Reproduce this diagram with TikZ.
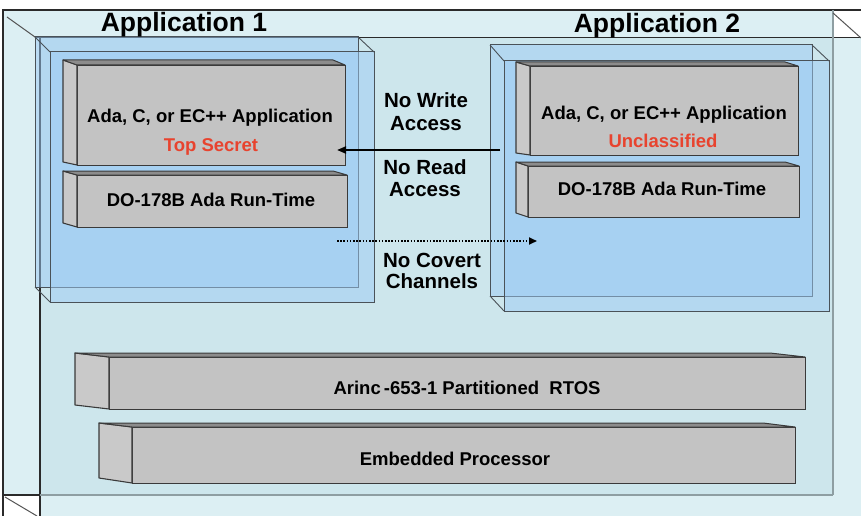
\documentclass[tikz,border=0pt]{standalone}
\usepackage{fontspec}
\setmainfont{Liberation Sans}
\usetikzlibrary{arrows.meta}
\definecolor{outerbg}{HTML}{DCEFF3}
\definecolor{wallbg}{HTML}{CDE6EC}
\definecolor{appblue}{HTML}{9CCBF5}
\definecolor{frameln}{HTML}{2A2A2A}
\definecolor{wallln}{HTML}{8E9EA2}
\definecolor{appln}{HTML}{4A5258}
\definecolor{facegray}{HTML}{C3C3C3}
\definecolor{sidegray}{HTML}{C9C9C9}
\definecolor{topgray}{HTML}{8C8C8C}
\definecolor{blkln}{HTML}{3A3A3A}
\definecolor{redtxt}{HTML}{E8432E}
\newcommand\gblk[9]{%
  \node[frontface, anchor=north west, minimum width=#7-#3, minimum height=#8-#5] (#1) at (#3,#5) {};
  \draw[sideface] (#2,#4) -- (#3,#5) -- (#3,#8) -- (#2,#9) -- cycle;
  \draw[topface] (#2,#4) -- (#6,#4) -- (#7,#5) -- (#3,#5) -- cycle;
}
\begin{document}
\begin{tikzpicture}[x=1pt,y=-1pt,
  frontface/.style={draw=blkln, fill=facegray, line width=1.3pt, inner sep=0pt},
  sideface/.style={draw=blkln, fill=sidegray, line width=1.1pt, line join=round},
  topface/.style={draw=blkln, fill=topgray, line width=1pt, line join=round},
  appbox/.style={draw=appln, fill=appblue, fill opacity=0.5, line width=1pt},
  appedge/.style={draw=appln, line width=0.9pt},
  title/.style={font=\fontsize{26.5}{30}\selectfont\bfseries, anchor=base, inner sep=0pt},
  btxt/.style={font=\fontsize{18.5}{22}\selectfont\bfseries, anchor=base, inner sep=0pt},
  rtxt/.style={btxt, text=redtxt},
  mtxt/.style={font=\fontsize{20.5}{22}\selectfont\bfseries, anchor=base, inner sep=0pt},
  solidarrow/.style={line width=2pt, -{Triangle[length=9pt,width=7pt]}},
  dotarrow/.style={line width=1.8pt, dash pattern=on 1.6pt off 1.6pt, -{Triangle[length=8pt,width=7pt]}}
]
\useasboundingbox (0,0) rectangle (861,516);
% backgrounds
\fill[white] (0,0) rectangle (861,516);
\fill[outerbg] (3,10) rectangle (861,516);
\fill[wallbg] (40,38) rectangle (833,495);
\fill[white] (833,10) rectangle (861,38);
\fill[white] (3,495) rectangle (40,516);
% room lines
\draw[frameln, line width=1.2pt] (3,516) -- (3,10) -- (861,10);
\draw[frameln, line width=1.2pt] (40,516) -- (40,38);
\draw[frameln, line width=1pt] (35,38) -- (861,38);
\draw[wallln, line width=1.2pt] (833,10) -- (833,495);
\draw[wallln, line width=1.2pt] (40,495) -- (833,495);
\draw[frameln, line width=1.2pt] (3,495) -- (40,495);
\draw[frameln!80, line width=1pt] (7,17) -- (35,37);
\draw[frameln!80, line width=1pt] (833,13) -- (861,38);
\draw[frameln!80, line width=1pt] (5,497) -- (37,516);
% application 1 box
\draw[appbox] (35,37) rectangle (358,287);
\draw[appbox] (50,52) rectangle (374,302);
\draw[appedge] (35,37) -- (50,52) (358,37) -- (374,52) (35,287) -- (50,302);
% application 2 box
\draw[appbox] (490,45) rectangle (812,296);
\draw[appbox] (504,61) rectangle (829,311);
\draw[appedge] (490,45) -- (504,61) (812,45) -- (829,61) (490,296) -- (504,311);
% titles
\node[title] (title1) at (184,32) {Application 1};
\node[title] (title2) at (657,33) {Application 2};
% gray blocks
\gblk{app1}{63}{77}{60}{65}{333}{345}{165}{162}
\gblk{rt1}{63}{77}{171}{175}{333}{347}{227}{223}
\gblk{app2}{516}{530}{62}{66}{785}{798}{155}{153}
\gblk{rt2}{516}{528}{162}{166}{785}{799}{217}{213}
\gblk{rtos}{75}{109}{353}{357}{770}{805}{409}{405}
\gblk{cpu}{99}{132}{423}{427}{763}{795}{483}{478}
% block texts
\node[btxt] (t1a) at (210,122) {Ada, C, or EC++ Application};
\node[rtxt] (t1b) at (211,151) {Top Secret};
\node[btxt] (t1c) at (211,206) {DO-178B Ada Run-Time};
\node[btxt] (t2a) at (664,119) {Ada, C, or EC++ Application};
\node[rtxt] (t2b) at (663,147) {Unclassified};
\node[btxt] (t2c) at (662,195) {DO-178B Ada Run-Time};
\node[btxt] (t3) at (467,394) {Arinc\,-653-1 Partitioned\ \ RTOS};
\node[btxt] (t4) at (455,465) {Embedded Processor};
% middle labels
\node[mtxt] (m1) at (426,108) {No Write};
\node[mtxt] (m2) at (426,131) {Access};
\node[mtxt] (m3) at (425,174) {No Read};
\node[mtxt] (m4) at (425,196) {Access};
\node[mtxt] (m5) at (432,267) {No Covert};
\node[mtxt] (m6) at (432,288) {Channels};
% arrows
\coordinate (wA) at (500,150);
\coordinate (wB) at (337,150);
\draw[solidarrow] (wA) -- (wB);
\coordinate (cA) at (337,241);
\coordinate (cB) at (537,241);
\draw[dotarrow] (cA) -- (cB);
\end{tikzpicture}
\end{document}
